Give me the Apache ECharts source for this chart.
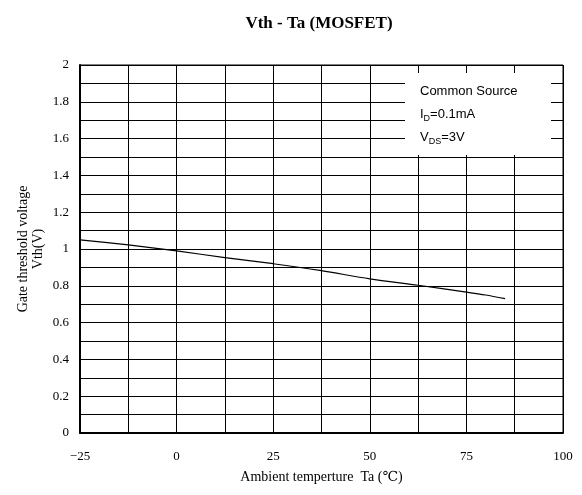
<!DOCTYPE html>
<html>
<head>
<meta charset="utf-8">
<script src="https://cdn.jsdelivr.net/npm/echarts@6/dist/echarts.min.js"></script>
<style>html,body{margin:0;padding:0;background:#fff}#c{width:582px;height:495px}</style>
</head>
<body>
<div id="c"></div>
<script>
const temps = [-25, -12.5, 0, 12.5, 25, 37.5, 50, 62.5, 75, 80, 85];
const vth = [1.05, 1.022, 0.99, 0.953, 0.92, 0.882, 0.838, 0.803, 0.766, 0.75, 0.73];
const xTickLabels = [-25, 0, 25, 50, 75, 100];
const yTickLabels = [0, 0.2, 0.4, 0.6, 0.8, 1, 1.2, 1.4, 1.6, 1.8, 2];

const serif = '"Liberation Serif", "DejaVu Serif", serif';
const sans = '"Liberation Sans", "DejaVu Sans", sans-serif';

const chart = echarts.init(document.getElementById('c'), null, {renderer: 'canvas'});
chart.setOption({
  backgroundColor: '#fff',
  animation: false,
  title: {
    text: 'Vth - Ta (MOSFET)',
    left: 314, top: 10, textAlign: 'center',
    textStyle: {fontFamily: serif, fontWeight: 'bold', fontSize: 17, color: '#000'}
  },
  grid: {left: 80, right: 19, top: 65, bottom: 62, show: true, borderColor: '#000', borderWidth: 1, containLabel: false},
  xAxis: {
    type: 'value', min: -25, max: 100, interval: 12.5,
    name: 'Ambient temperture  Ta (\u2103)', nameLocation: 'middle', nameGap: 37,
    nameMoveOverlap: false,
    nameTextStyle: {fontFamily: serif, fontSize: 14, color: '#000'},
    axisLine: {show: true, onZero: false, lineStyle: {color: '#000', width: 2}},
    axisTick: {show: false},
    splitLine: {show: true, lineStyle: {color: '#000', width: 1}},
    axisLabel: {
      margin: 17, fontFamily: serif, fontSize: 13, color: '#000',
      formatter: v => xTickLabels.indexOf(v) >= 0 ? String(v).replace('-', '\u2212') : ''
    }
  },
  yAxis: {
    type: 'value', min: 0, max: 2, interval: 0.1,
    name: 'Gate threshold voltage\nVth(V)', nameLocation: 'middle', nameGap: 34,
    nameMoveOverlap: false,
    nameTextStyle: {fontFamily: serif, fontSize: 14, color: '#000', lineHeight: 15},
    axisLine: {show: true, onZero: false, lineStyle: {color: '#000', width: 2}},
    axisTick: {show: false},
    splitLine: {show: true, lineStyle: {color: '#000', width: 1}},
    axisLabel: {
      margin: 11, fontFamily: serif, fontSize: 13, color: '#000',
      formatter: v => {
        const r = Math.round(v * 10) / 10;
        return yTickLabels.some(t => Math.abs(t - r) < 1e-9) ? String(r) : '';
      }
    }
  },
  series: [{
    type: 'line',
    data: temps.map((t, i) => [t, vth[i]]),
    showSymbol: false, smooth: 0.3,
    lineStyle: {color: '#000', width: 1.2},
    z: 5
  }],
  graphic: [{
    type: 'rect', left: 405, top: 73, z: 10,
    shape: {width: 146, height: 82},
    style: {fill: '#fff', stroke: null}
  }, {
    type: 'text', left: 420, top: 80, z: 11,
    style: {
      text: 'Common Source\n{m|I}{s|D}{m|=0.1mA}\n{m|V}{s|DS}{m|=3V}',
      font: '13px ' + sans, fill: '#000', lineHeight: 23,
      rich: {
        m: {fontSize: 13, fontFamily: sans, fill: '#000', lineHeight: 23},
        s: {fontSize: 9, fontFamily: sans, fill: '#000', lineHeight: 23, padding: [8, 0, 0, 0]}
      }
    }
  }]
});
</script>
</body>
</html>
